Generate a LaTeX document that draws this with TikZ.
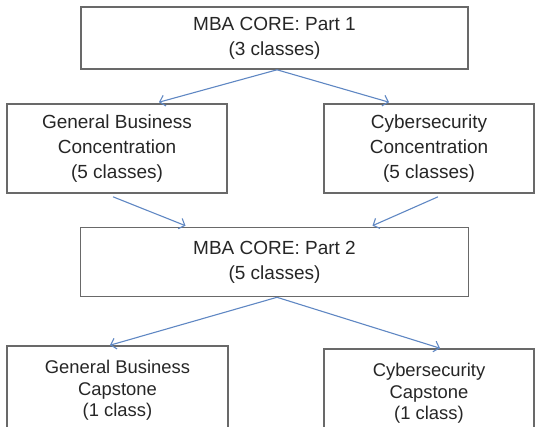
\documentclass[tikz,border=0pt]{standalone}
\usepackage{fontspec}
\setmainfont{Liberation Sans}
\usetikzlibrary{arrows.meta}

\definecolor{boxgray}{RGB}{105,105,105}
\definecolor{arrowblue}{RGB}{95,135,195}

\begin{document}
\begin{tikzpicture}[x=1pt,y=-1pt]

        \useasboundingbox (0,0) rectangle (537,426);
        \clip (0,0) rectangle (537,426);

        \begin{scope}[every node/.style={rectangle,draw=boxgray,line width=1.6pt, align=center, text=black!85, inner sep=0pt, font=\fontsize{19}{25}\selectfont}]
          \node[minimum width=387pt, minimum height=62pt] (core1)  at (274.5,38)  {MBA CORE: Part 1\\(3 classes)};
          \node[minimum width=220pt, minimum height=89pt] (gbconc) at (117,148.5) {General Business\\Concentration\\(5 classes)};
          \node[minimum width=210pt, minimum height=89pt] (csconc) at (429,148.5) {Cybersecurity\\Concentration\\(5 classes)};
          \node[minimum width=388pt, minimum height=69pt] (core2)  at (274.5,262) {MBA CORE: Part 2\\(5 classes)};
          \node[minimum width=221pt, minimum height=89pt, font=\fontsize{18.4}{21.5}\selectfont] (gbcap)  at (117.5,390.5) {General Business\\Capstone\\(1 class)};
          \node[minimum width=210pt, minimum height=89pt, font=\fontsize{18.4}{21.5}\selectfont] (cscap)  at (429,393.5) {Cybersecurity\\Capstone\\(1 class)};
        \end{scope}

        \begin{scope}[every edge/.style={draw=arrowblue, line width=1.1pt, -{Straight Barb[length=5pt,width=11pt]}}]
          \path ([xshift=2.5pt]core1.south)  edge ([xshift=42pt,yshift=1pt]gbconc.north);
          \path ([xshift=2.5pt]core1.south)  edge ([xshift=-40pt,yshift=1pt]csconc.north);
          \path ([xshift=-4pt,yshift=-3pt]gbconc.south) edge ([xshift=-89pt,yshift=1pt]core2.north);
          \path ([xshift=9pt,yshift=-3pt]csconc.south)  edge ([xshift=98pt,yshift=1pt]core2.north);
          \path ([xshift=2.5pt]core2.south)  edge ([xshift=-7.5pt]gbcap.north);
          \path ([xshift=2.5pt]core2.south)  edge ([xshift=11pt]cscap.north);
        \end{scope}

      \end{tikzpicture}
\end{document}
